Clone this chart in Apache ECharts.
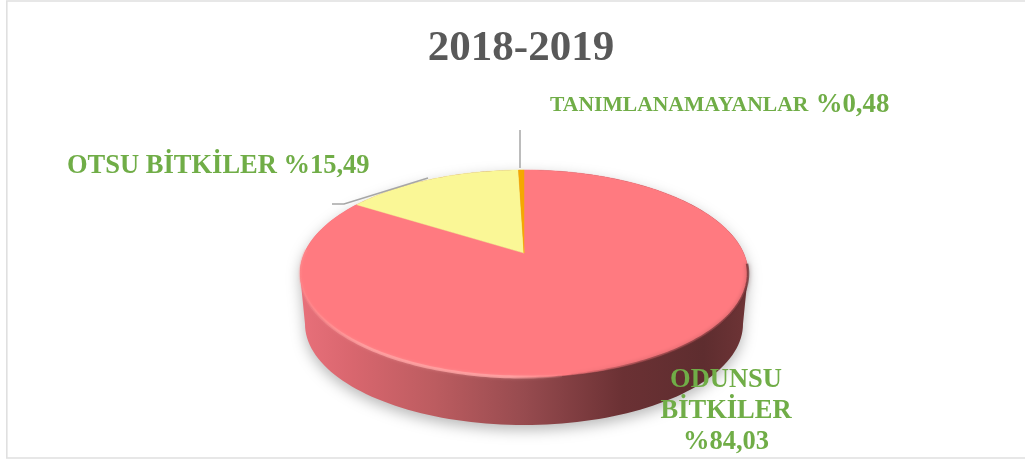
<!DOCTYPE html>
<html>
<head>
<meta charset="utf-8">
<style>
  html, body { margin: 0; padding: 0; background: #fff; overflow: hidden; }
  #main { width: 1025px; height: 459px; }
</style>
<script src="https://cdn.jsdelivr.net/npm/echarts@6/dist/echarts.min.js"></script>
</head>
<body>
<div id="main"></div>
<script>
// veriler
const titleText = "2018-2019";
const categories = ["ODUNSU BİTKİLER", "OTSU BİTKİLER", "TANIMLANAMAYANLAR"];
const shares = [84.03, 15.49, 0.48];
const sliceColors = ["#FF7A80", "#FAF796", "#F5A800"];

// pie geometry: the 3D tilt is a projection of the unit disk
const apex = { x: 524, y: 253 };
const radiusX = 219.6;
const radiusY = 99.5;
const persp = 0.198;
const floor = { x: 524, y: 324, rx: 219, ry: 101 };
const total = shares.reduce((a, b) => a + b, 0);

const green = "#70AD47";
const serif = '"Liberation Serif", serif';
const fmt = (v) => "%" + v.toFixed(2).replace(".", ",");

// clockwise angle from 12 o'clock -> screen point on the top face
function project(deg) {
  const t = (deg * Math.PI) / 180;
  const u = Math.sin(t);
  const v = Math.cos(t);
  const w = 1 + persp * v;
  return [apex.x + (radiusX * u) / w, apex.y - (radiusY * v) / w];
}

function arc(from, to) {
  const pts = [];
  const n = Math.max(2, Math.ceil(Math.abs(to - from)));
  for (let i = 0; i <= n; i++) pts.push(project(from + ((to - from) * i) / n));
  return pts;
}

// the wall: outline of top face upper part + lower half of the floor ellipse
function wallPoints() {
  const pts = arc(-101.4, 101.4);
  for (let a = 0; a <= 180; a += 2) {
    const t = (a * Math.PI) / 180;
    pts.push([floor.x + floor.rx * Math.cos(t), floor.y + floor.ry * Math.sin(t)]);
  }
  return pts;
}

function renderSlice(params, api) {
  const idx = params.dataIndex;
  let start = 0;
  for (let i = 0; i < idx; i++) start += shares[i];
  const from = (start / total) * 360;
  const to = ((start + api.value(0)) / total) * 360;
  const children = [];

  if (idx === 0) {
    children.push({
      type: "polygon",
      shape: { points: wallPoints() },
      style: {
        fill: new echarts.graphic.LinearGradient(0, 0, 1, 0, [
          { offset: 0, color: "#E8707A" },
          { offset: 0.12, color: "#D8666E" },
          { offset: 0.3, color: "#BC5C60" },
          { offset: 0.5, color: "#974B4F" },
          { offset: 0.72, color: "#6B3134" },
          { offset: 0.9, color: "#5E2D2F" },
          { offset: 1, color: "#6E3436" },
        ]),
        shadowBlur: 14,
        shadowColor: "rgba(0,0,0,0.28)",
        shadowOffsetY: 5,
      },
    });
  }

  children.push({
    type: "polygon",
    shape: { points: [[apex.x, apex.y], ...arc(from, to)] },
    style: { fill: sliceColors[idx], stroke: sliceColors[idx], lineWidth: 0.5 },
  });

  if (idx === 0) {
    // bevel along the front edge: light on the left, dark on the right
    children.push({
      type: "polyline",
      shape: { points: arc(172, 272) },
      style: {
        fill: null,
        lineWidth: 3,
        stroke: new echarts.graphic.LinearGradient(0, 0, 1, 0, [
          { offset: 0, color: "rgba(255,150,150,0.15)" },
          { offset: 0.25, color: "rgba(255,165,165,0.75)" },
          { offset: 0.8, color: "rgba(255,165,165,0.8)" },
          { offset: 1, color: "rgba(255,150,150,0.1)" },
        ]),
        shadowBlur: 3,
        shadowColor: "rgba(255,170,170,0.5)",
      },
    });
    children.push({
      type: "polyline",
      shape: { points: arc(96, 170) },
      style: {
        fill: null,
        lineWidth: 2.5,
        stroke: new echarts.graphic.LinearGradient(0, 0, 1, 0, [
          { offset: 0, color: "rgba(120,55,58,0.05)" },
          { offset: 0.4, color: "rgba(110,50,52,0.55)" },
          { offset: 1, color: "rgba(100,45,48,0.7)" },
        ]),
        shadowBlur: 4,
        shadowColor: "rgba(100,45,48,0.6)",
      },
    });
  }
  return { type: "group", children };
}

const chart = echarts.init(document.getElementById("main"));

const leaderStyle = { stroke: "#A6A6A6", lineWidth: 1.5, fill: null };

const option = {
  backgroundColor: "#fff",
  animation: false,
  title: {
    text: titleText,
    left: 516,
    top: 22,
    textAlign: "center",
    textStyle: { fontFamily: serif, fontWeight: "bold", fontSize: 43, color: "#595959" },
  },
  graphic: [
    {
      type: "polyline",
      z: 0,
      silent: true,
      shape: { points: [[1025, 1], [6.8, 1], [6.8, 458], [1025, 458]] },
      style: { fill: null, stroke: "#E0E0E0", lineWidth: 1.6 },
    },
    {
      type: "polyline",
      z: 10,
      shape: { points: [[520, 130], [520, 168]] },
      style: leaderStyle,
    },
    {
      type: "polyline",
      z: 10,
      shape: { points: [[332, 204], [344, 204], [428, 178]] },
      style: leaderStyle,
    },
    {
      type: "text",
      z: 10,
      left: 67,
      top: 153,
      style: {
        text: categories[1] + " " + fmt(shares[1]),
        fontFamily: serif,
        fontWeight: "bold",
        fontSize: 26.5,
        fill: green,
      },
    },
    {
      type: "text",
      z: 10,
      left: 550,
      top: 92,
      style: {
        text: "{a|" + categories[2] + "} {b|" + fmt(shares[2]) + "}",
        rich: {
          a: { fontFamily: serif, fontWeight: "bold", fontSize: 21.6, fill: green, color: green },
          b: {
            fontFamily: serif,
            fontWeight: "bold",
            fontSize: 26.8,
            fill: green,
            color: green,
            padding: [0, 0, 0, 4],
          },
        },
      },
    },
    {
      type: "text",
      z: 10,
      x: 726,
      y: 365,
      style: {
        text: categories[0].replace(" ", "\n") + "\n" + fmt(shares[0]),
        align: "center",
        lineHeight: 31,
        fontFamily: serif,
        fontWeight: "bold",
        fontSize: 26.5,
        fill: green,
      },
    },
  ],
  series: [
    {
      type: "custom",
      coordinateSystem: "none",
      silent: true,
      renderItem: renderSlice,
      data: shares.map((v) => [v]),
    },
  ],
};

chart.setOption(option);
</script>
</body>
</html>
